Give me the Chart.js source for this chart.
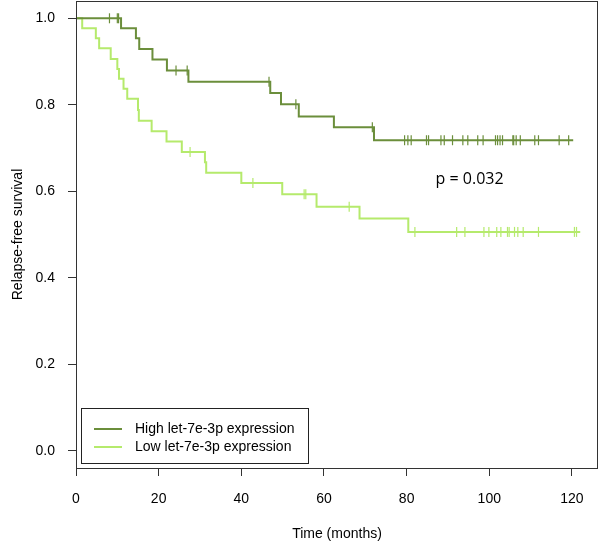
<!DOCTYPE html>
<html>
<head>
<meta charset="utf-8">
<script src="https://cdn.jsdelivr.net/npm/chart.js@4.4.0/dist/chart.umd.min.js"></script>
<style>
  html, body { margin: 0; padding: 0; background: #fff; }
  #wrap { width: 600px; height: 546px; }
</style>
</head>
<body>
<div id="wrap"><canvas id="km" width="600" height="546"></canvas></div>
<script>
// groups
const groupNames = ['High let-7e-3p expression', 'Low let-7e-3p expression'];
const groupColors = ['#6b8e3b', '#b5ea6c'];

// high expression: event times (months) and survival after each event
const highEventTimes = [10.9, 14.5, 15.3, 18.5, 22.0, 27.2, 47.0, 49.6, 53.9, 62.4, 72.1];
const highSurvival   = [0.977, 0.954, 0.929, 0.905, 0.879, 0.853, 0.827, 0.801, 0.773, 0.748, 0.718];
const highCensored   = [8.1, 10.0, 10.3, 24.2, 26.9, 46.7, 53.2, 71.7,
  79.5, 80.3, 81.1, 84.8, 85.3, 88.3, 89.1, 91.1, 93.6, 94.8, 97.2, 98.5,
  101.5, 102.0, 102.6, 103.2, 105.7, 105.9, 106.5, 107.5, 111.0, 111.9, 116.9, 119.2];
const highLastTime = 120.3;

// low expression
const lowEventTimes = [1.5, 4.8, 5.6, 8.4, 10.0, 10.4, 11.5, 12.4, 15.0, 15.2, 18.3, 21.9,
  25.6, 31.2, 31.5, 40.0, 49.9, 58.2, 68.6, 80.4];
const lowSurvival   = [0.977, 0.954, 0.931, 0.906, 0.883, 0.860, 0.837, 0.814, 0.788, 0.763, 0.739, 0.715,
  0.691, 0.667, 0.643, 0.619, 0.593, 0.564, 0.537, 0.506];
const lowCensored   = [27.6, 42.8, 55.2, 55.6, 66.1, 82.0, 92.1, 94.1, 98.7, 99.9,
  101.8, 102.8, 104.4, 104.8, 106.1, 106.9, 108.2, 111.9, 120.6, 121.1];
const lowLastTime = 122.0;

const xTicks = [0, 20, 40, 60, 80, 100, 120];
const yTicks = [0, 0.2, 0.4, 0.6, 0.8, 1.0];
const pValueText = 'p = 0.032';

const FONT = '"Liberation Sans", Arial, sans-serif';

function survivalAt(times, surv, t) {
  let s = 1;
  for (let i = 0; i < times.length; i++) {
    if (times[i] <= t) s = surv[i];
  }
  return s;
}

function stepPoints(times, surv, lastTime) {
  const pts = [{ x: 0, y: 1 }];
  times.forEach((t, i) => pts.push({ x: t, y: surv[i] }));
  pts.push({ x: lastTime, y: surv[surv.length - 1] });
  return pts;
}

function censorPoints(times, surv, cens) {
  return cens.map(t => ({ x: t, y: survivalAt(times, surv, t) }));
}

const curveStyle = color => ({
  borderColor: color,
  borderWidth: 2,
  pointRadius: 0,
  stepped: true,
  fill: false
});

const markStyle = color => ({
  type: 'scatter',
  borderColor: color,
  backgroundColor: color,
  pointStyle: 'line',
  rotation: 90,
  pointRadius: 5,
  borderWidth: 1.2,
  showLine: false
});

// keep the plot box where the reference has it
function noPad(s) {
  s.paddingTop = 0;
  s.paddingBottom = 0;
  s.paddingLeft = 0;
  s.paddingRight = 0;
}

// box, legend and p value
const extras = {
  id: 'extras',
  afterDraw(chart) {
    const ctx = chart.ctx;
    const a = chart.chartArea;
    ctx.save();
    ctx.strokeStyle = '#333';
    ctx.lineWidth = 1;
    ctx.strokeRect(a.left + 0.5, a.top + 0.5, a.right - a.left - 1, a.bottom - a.top);

    // legend
    ctx.fillStyle = '#fff';
    ctx.fillRect(81, 408, 227, 55);
    ctx.strokeStyle = '#222';
    ctx.strokeRect(81.5, 408.5, 227, 55);
    const rows = [429, 447];
    groupNames.forEach((name, i) => {
      ctx.strokeStyle = groupColors[i];
      ctx.lineWidth = 2;
      ctx.beginPath();
      ctx.moveTo(94, rows[i]);
      ctx.lineTo(122, rows[i]);
      ctx.stroke();
      ctx.fillStyle = '#000';
      ctx.font = '14px ' + FONT;
      ctx.textBaseline = 'middle';
      ctx.textAlign = 'left';
      ctx.fillText(name, 135, rows[i]);
    });

    // p value
    const xs = chart.scales.x, ys = chart.scales.y;
    ctx.font = '16px "Open Sans", sans-serif';
    ctx.fillStyle = '#000';
    ctx.textAlign = 'left';
    ctx.textBaseline = 'middle';
    ctx.fillText(pValueText, xs.getPixelForValue(87.0), ys.getPixelForValue(0.628));
    ctx.restore();
  }
};

new Chart(document.getElementById('km'), {
  type: 'line',
  data: {
    datasets: [
      { label: groupNames[0], data: stepPoints(highEventTimes, highSurvival, highLastTime), ...curveStyle(groupColors[0]) },
      { label: groupNames[1], data: stepPoints(lowEventTimes, lowSurvival, lowLastTime), ...curveStyle(groupColors[1]) },
      { label: 'high censored', data: censorPoints(highEventTimes, highSurvival, highCensored), ...markStyle(groupColors[0]) },
      { label: 'low censored', data: censorPoints(lowEventTimes, lowSurvival, lowCensored), ...markStyle(groupColors[1]) }
    ]
  },
  options: {
    responsive: false,
    animation: false,
    devicePixelRatio: 1,
    layout: { autoPadding: false, padding: { top: 1, right: 2, left: 0, bottom: 0 } },
    plugins: {
      legend: { display: false },
      tooltip: { enabled: false }
    },
    scales: {
      x: {
        type: 'linear',
        min: 0,
        max: 126.3,
        afterBuildTicks: s => { s.ticks = xTicks.map(v => ({ value: v })); },
        afterFit: s => { s.height = 78; noPad(s); },
        grid: { drawOnChartArea: false, drawTicks: true, tickLength: 8, color: '#333' },
        border: { display: false },
        ticks: { font: { size: 14, family: FONT }, color: '#000', padding: 15, maxRotation: 0, autoSkip: false },
        title: { display: true, text: 'Time (months)', font: { size: 14, family: FONT }, color: '#000', padding: { top: 0, bottom: 3 } }
      },
      y: {
        type: 'linear',
        min: -0.04,
        max: 1.04,
        afterBuildTicks: s => { s.ticks = yTicks.map(v => ({ value: v })); },
        afterFit: s => { s.width = 76; noPad(s); },
        grid: { drawOnChartArea: false, drawTicks: true, tickLength: 8, color: '#333' },
        border: { display: false },
        ticks: { font: { size: 14, family: FONT }, color: '#000', padding: 13, callback: v => v.toFixed(1) },
        title: { display: true, text: 'Relapse-free survival', font: { size: 14, family: FONT }, color: '#000', padding: { top: 10, bottom: 0 } }
      }
    }
  },
  plugins: [extras]
});
</script>
</body>
</html>
